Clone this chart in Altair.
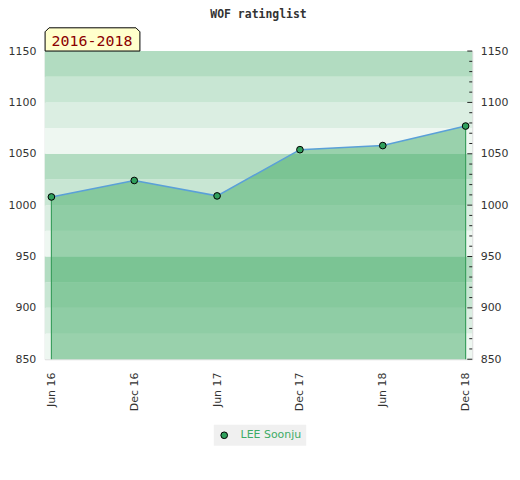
import altair as alt
import pandas as pd

# ---- data ----
periods = ["Jun 16", "Dec 16", "Jun 17", "Dec 17", "Jun 18", "Dec 18"]
ratings = [1008, 1024, 1009, 1054, 1058, 1077]
player = "LEE Soonju"
chart_title = "WOF ratinglist"
range_label = "2016-2018"

band_lows = [850, 875, 900, 925, 950, 975, 1000, 1025, 1050, 1075, 1100, 1125]
band_palette = ["#eef7f1", "#dbeee2", "#c8e6d3", "#b2dcc1"]
major_ticks = [850, 900, 950, 1000, 1050, 1100, 1150]
minor_ticks = [v for v in range(860, 1150, 10) if v % 50 != 0]

W, H = 430, 310
Y_DOMAIN = [850, 1150]
FONT = "DejaVu Sans"

df = pd.DataFrame({"period": periods, "rating": ratings, "player": [player] * len(periods)})
ends = df.iloc[[0, -1]].copy()
bands = pd.DataFrame({
    "lo": band_lows,
    "hi": [b + 25 for b in band_lows],
    "c": [band_palette[i % 4] for i in range(len(band_lows))],
})
maj = pd.DataFrame({"v": major_ticks})
mnr = pd.DataFrame({"v": minor_ticks})
one = pd.DataFrame({"t": [range_label], "title": [chart_title]})

yscale = alt.Scale(domain=Y_DOMAIN, nice=False, zero=False)
xenc = alt.X("period:O", sort=periods,
             scale=alt.Scale(type="point", padding=0.08, domain=periods),
             axis=alt.Axis(title=None, labelAngle=-90, ticks=False, domain=False,
                           labelPadding=13, labelFont=FONT, labelFontSize=11,
                           labelColor="#333333", grid=False))

band_layer = alt.Chart(bands).mark_rect().encode(
    x=alt.value(0), x2=alt.value(W),
    y=alt.Y("lo:Q", scale=yscale,
            axis=alt.Axis(orient="left", title=None, ticks=False, domain=False, grid=False,
                          values=major_ticks, format="d", labelPadding=9, labelFont=FONT,
                          labelFontSize=11, labelColor="#333333")),
    y2="hi:Q",
    color=alt.Color("c:N", scale=None),
)

area_layer = alt.Chart(df).mark_area(color="#43ab67", opacity=0.5).encode(
    x=xenc,
    y=alt.Y("rating:Q", scale=yscale, axis=None),
    y2=alt.datum(850),
)

end_rules = alt.Chart(ends).mark_rule(color="#3c9f5f", strokeWidth=1.2).encode(
    x=xenc,
    y=alt.Y("rating:Q", scale=yscale, axis=None),
    y2=alt.datum(850),
)

line_layer = alt.Chart(df).mark_line(color="#5aa0d8", strokeWidth=1.6).encode(
    x=xenc,
    y=alt.Y("rating:Q", scale=yscale, axis=None),
)

point_layer = alt.Chart(df).mark_point(filled=True, opacity=1, stroke="black",
                                       strokeWidth=1, size=45, shape="circle").encode(
    x=xenc,
    y=alt.Y("rating:Q", scale=yscale, axis=None),
    color=alt.Color("player:N", scale=alt.Scale(domain=[player], range=["#30a05c"]),
                    legend=alt.Legend(title=None, orient="none", legendX=170, legendY=376,
                                      fillColor="#f0f0f0", padding=5, symbolType="circle",
                                      symbolSize=45, symbolStrokeColor="black",
                                      symbolStrokeWidth=1, labelColor="#3dab66",
                                      labelFont=FONT, labelFontSize=11,
                                      labelOffset=11)),
)

major_layer = alt.Chart(maj).mark_rule(color="#222222", strokeWidth=1).encode(
    x=alt.value(W - 5), x2=alt.value(W),
    y=alt.Y("v:Q", scale=yscale,
            axis=alt.Axis(orient="right", title=None, ticks=False, domain=False, grid=False,
                          values=major_ticks, format="d", labelPadding=8, labelFont=FONT,
                          labelFontSize=11, labelColor="#333333")),
)

minor_layer = alt.Chart(mnr).mark_rule(color="#222222", strokeWidth=1).encode(
    x=alt.value(W - 3), x2=alt.value(W),
    y=alt.Y("v:Q", scale=yscale, axis=None),
)

box_shape = "M -1 0.245 L -1 -0.161 L -0.916 -0.245 L 0.916 -0.245 L 1 -0.161 L 1 0.245 Z"
box_layer = alt.Chart(one).mark_point(shape=box_shape, filled=True, fill="#ffffcc",
                                      stroke="black", strokeWidth=1, opacity=1,
                                      size=9101).encode(
    x=alt.value(48), y=alt.value(-11.7)
)
label_layer = alt.Chart(one).mark_text(font="DejaVu Sans Mono", fontSize=15,
                                       color="#8b0000", baseline="middle",
                                       align="center").encode(
    x=alt.value(47.5), y=alt.value(-10.5), text="t:N"
)
title_layer = alt.Chart(one).mark_text(font="DejaVu Sans Mono", fontSize=11.5,
                                       fontWeight="bold", color="#333333",
                                       baseline="alphabetic", align="center").encode(
    x=alt.value(W / 2), y=alt.value(-33), text="title:N"
)

chart = alt.layer(
    band_layer, area_layer, end_rules, line_layer, point_layer,
    major_layer, minor_layer, box_layer, label_layer, title_layer
).resolve_axis(y="independent").resolve_scale(y="shared").properties(
    width=W, height=H,
    autosize=alt.AutoSizeParams(type="none"),
    padding={"left": 37, "top": 42, "right": 40, "bottom": 90},
).configure_view(stroke="#d6d6d6", strokeWidth=1)

chart.save("out.html", embed_options={"renderer": "svg", "actions": False})
